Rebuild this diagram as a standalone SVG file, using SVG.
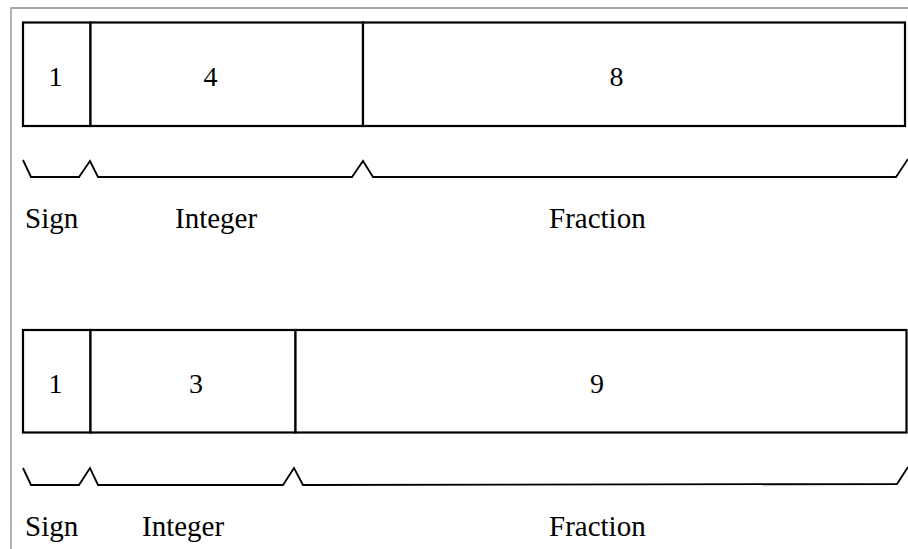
<svg xmlns="http://www.w3.org/2000/svg" width="908" height="549" viewBox="0 0 908 549">
  <style>
    .frame { fill: none; stroke: #8a8a8a; stroke-width: 1.3; }
    .box { fill: #ffffff; stroke: #000000; stroke-width: 2.2; }
    .brace { fill: none; stroke: #000000; stroke-width: 1.8; stroke-linejoin: miter; }
    .num { font-family: "Liberation Serif", "Times New Roman", serif; font-size: 28px; fill: #000000; text-anchor: middle; }
    .lbl { font-family: "Liberation Serif", "Times New Roman", serif; font-size: 29px; fill: #000000; }
  </style>
  <rect width="908" height="549" fill="#ffffff"/>
  <!-- outer frame: top and left edges only -->
  <path class="frame" d="M11,549 L11,8 L908,8"/>

  <!-- format 1: 1 sign bit, 4 integer bits, 8 fraction bits -->
  <g id="fmt1-sign">
    <rect class="box" x="23" y="22.5" width="67.5" height="103.5"/>
    <text class="num" x="55.5" y="86">1</text>
  </g>
  <g id="fmt1-integer">
    <rect class="box" x="90.5" y="22.5" width="272.5" height="103.5"/>
    <text class="num" x="210.5" y="86">4</text>
  </g>
  <g id="fmt1-fraction">
    <rect class="box" x="363" y="22.5" width="542" height="103.5"/>
    <text class="num" x="616.5" y="86">8</text>
  </g>

  <!-- format 2: 1 sign bit, 3 integer bits, 9 fraction bits -->
  <g id="fmt2-sign">
    <rect class="box" x="23" y="330" width="67.5" height="102.5"/>
    <text class="num" x="55.5" y="393">1</text>
  </g>
  <g id="fmt2-integer">
    <rect class="box" x="90.5" y="330" width="205" height="102.5"/>
    <text class="num" x="196" y="393">3</text>
  </g>
  <g id="fmt2-fraction">
    <rect class="box" x="295.5" y="330" width="611" height="102.5"/>
    <text class="num" x="597" y="393">9</text>
  </g>

  <!-- braces under each field -->
  <g id="connectors">
    <path class="brace" d="M23,160 L31,177 L79,177 L90,161 L98,177 L352,177 L363,161 L373,177 L896,177 L908,159"/>
    <path class="brace" d="M23,468 L31,485 L79,485 L90,468 L98,485 L283,485 L294,468 L303,485 L897,484 L908,467"/>
  </g>

  <!-- field labels -->
  <g id="labels1">
    <text class="lbl" x="25" y="228">Sign</text>
    <text class="lbl" x="175" y="228">Integer</text>
    <text class="lbl" x="549" y="228">Fraction</text>
  </g>
  <g id="labels2">
    <text class="lbl" x="25" y="536">Sign</text>
    <text class="lbl" x="142" y="536">Integer</text>
    <text class="lbl" x="549" y="536">Fraction</text>
  </g>
</svg>
